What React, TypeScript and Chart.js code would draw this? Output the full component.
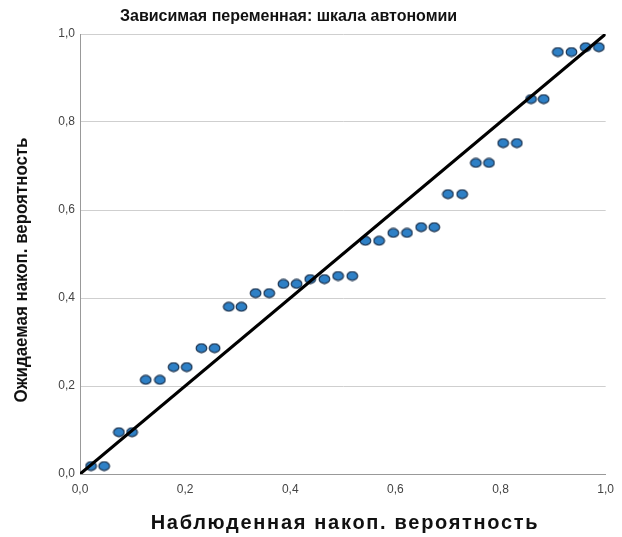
import React, { useEffect, useRef } from "react";
import { Chart, registerables } from "chart.js";

Chart.register(...registerables);

const observed = [
  0.021, 0.046, 0.074, 0.099, 0.125, 0.152, 0.178, 0.203, 0.231, 0.256,
  0.283, 0.307, 0.334, 0.36, 0.387, 0.412, 0.438, 0.465, 0.491, 0.518,
  0.543, 0.569, 0.596, 0.622, 0.649, 0.674, 0.7, 0.727, 0.753, 0.778,
  0.805, 0.831, 0.858, 0.882, 0.909, 0.935, 0.962, 0.987,
];
const expected = [
  0.018, 0.018, 0.095, 0.095, 0.214, 0.214, 0.243, 0.243, 0.286, 0.286,
  0.38, 0.38, 0.411, 0.411, 0.432, 0.432, 0.443, 0.443, 0.45, 0.45,
  0.53, 0.53, 0.548, 0.548, 0.561, 0.561, 0.636, 0.636, 0.707, 0.707,
  0.752, 0.752, 0.852, 0.852, 0.959, 0.959, 0.97, 0.97,
];
const diagonal = [0, 1];
const tickValues = [0, 0.2, 0.4, 0.6, 0.8, 1.0];
const tickLabels = ["0,0", "0,2", "0,4", "0,6", "0,8", "1,0"];

const titleText = "Зависимая переменная: шкала автономии";
const xTitle = "Наблюденная накоп. вероятность";
const yTitle = "Ожидаемая накоп. вероятность";

const FONT = "'Liberation Sans', Arial, sans-serif";

function makeEllipse(): HTMLCanvasElement {
  const c = document.createElement("canvas");
  c.width = 13;
  c.height = 11;
  const ctx = c.getContext("2d")!;
  ctx.beginPath();
  ctx.ellipse(6.5, 5.5, 5.3, 4.3, 0, 0, Math.PI * 2);
  ctx.fillStyle = "#2e80c6";
  ctx.fill();
  ctx.lineWidth = 1.2;
  ctx.strokeStyle = "#1b3350";
  ctx.stroke();
  return c;
}

const labelFor = (v: number) => {
  const i = tickValues.findIndex((t) => Math.abs(t - v) < 1e-6);
  return i >= 0 ? tickLabels[i] : "";
};

export default function App() {
  const ref = useRef<HTMLCanvasElement>(null);
  useEffect(() => {
    document.body.style.margin = "0";
    const ellipse = makeEllipse();
    const titlePlugin = {
      id: "fixedTitles",
      afterDraw(chart: any) {
        const ctx = chart.ctx as any;
        ctx.save();
        ctx.fillStyle = "#111";
        ctx.textBaseline = "middle";

        ctx.font = `bold 16px ${FONT}`;
        ctx.textAlign = "left";
        ctx.fillText(titleText, 120, 17);

        ctx.font = `bold 20px ${FONT}`;
        ctx.textAlign = "center";
        if ("letterSpacing" in ctx) ctx.letterSpacing = "1.7px";
        ctx.fillText(xTitle, 345, 523);
        if ("letterSpacing" in ctx) ctx.letterSpacing = "0px";

        ctx.font = `bold 19px ${FONT}`;
        const w = ctx.measureText(yTitle).width;
        const sx = 265 / w;
        ctx.translate(22, 270);
        ctx.rotate(-Math.PI / 2);
        ctx.scale(sx, 1);
        ctx.textAlign = "center";
        ctx.fillText(yTitle, 0, 0);
        ctx.restore();
      },
    };
    const chart = new Chart(ref.current!, {
      type: "scatter",
      data: {
        datasets: [
          {
            type: "line",
            data: diagonal.map((v) => ({ x: v, y: v })),
            borderColor: "#000",
            borderWidth: 3.2,
            pointRadius: 0,
            fill: false,
          } as any,
          {
            data: observed.map((x, i) => ({ x, y: expected[i] })),
            pointStyle: ellipse,
            pointRadius: 5,
            pointHoverRadius: 5,
          },
        ],
      },
      options: {
        animation: false,
        responsive: false,
        maintainAspectRatio: false,
        layout: { padding: { left: 0, top: 34, right: 15, bottom: 0 } },
        plugins: {
          legend: { display: false },
          tooltip: { enabled: false },
        },
        scales: {
          x: {
            type: "linear",
            min: 0,
            max: 1,
            afterBuildTicks: (s: any) => {
              s.ticks = tickValues.map((v) => ({ value: v }));
            },
            afterFit: (s: any) => {
              s.height = 63;
            },
            grid: { display: false, drawTicks: false },
            border: { display: true, color: "#999", width: 1 },
            ticks: {
              callback: (v: any) => labelFor(Number(v)),
              color: "#444",
              font: { size: 12, family: FONT },
              padding: 8,
              maxRotation: 0,
            },
            title: { display: false },
          },
          y: {
            type: "linear",
            min: 0,
            max: 1,
            afterBuildTicks: (s: any) => {
              s.ticks = tickValues.map((v) => ({ value: v }));
            },
            afterFit: (s: any) => {
              s.width = 80;
            },
            grid: { color: "#cfcfcf", drawTicks: false, lineWidth: 1 },
            border: { display: true, color: "#999", width: 1 },
            ticks: {
              callback: (v: any) => labelFor(Number(v)),
              color: "#444",
              font: { size: 12, family: FONT },
              padding: 5,
            },
            title: { display: false },
          },
        },
      },
      plugins: [titlePlugin],
    });
    return () => chart.destroy();
  }, []);
  return (
    <div style={{ position: "absolute", left: 0, top: 0, width: 622, height: 537, background: "#fff" }}>
      <canvas ref={ref} width={622} height={537} style={{ width: 622, height: 537 }} />
    </div>
  );
}
